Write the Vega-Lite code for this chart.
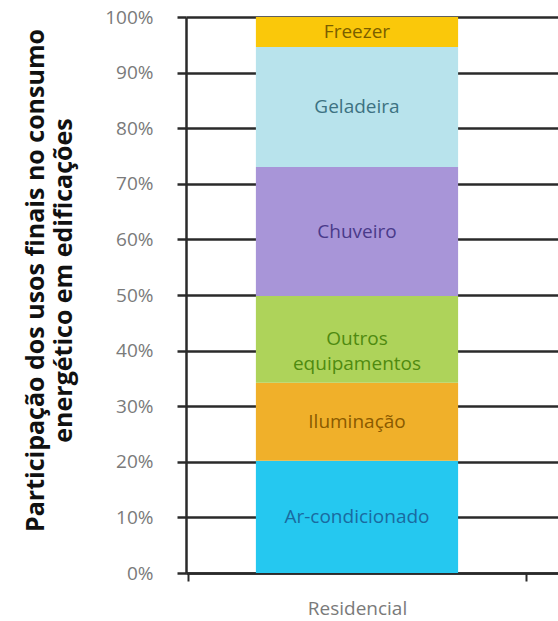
{
  "$schema": "https://vega.github.io/schema/vega-lite/v6.json",
  "autosize": "none",
  "padding": {"left": 186, "top": 17, "right": 0, "bottom": 48},
  "width": 372,
  "height": 556,
  "background": "white",
  "config": {"view": {"stroke": null}},
  "data": {
    "values": [
      {"setor": "Residencial", "uso": "Ar-condicionado", "valor": 20.2, "ordem": 1},
      {"setor": "Residencial", "uso": "Iluminação", "valor": 14.0, "ordem": 2},
      {"setor": "Residencial", "uso": "Outros\nequipamentos", "valor": 15.6, "ordem": 3},
      {"setor": "Residencial", "uso": "Chuveiro", "valor": 23.2, "ordem": 4},
      {"setor": "Residencial", "uso": "Geladeira", "valor": 21.6, "ordem": 5},
      {"setor": "Residencial", "uso": "Freezer", "valor": 5.4, "ordem": 6}
    ]
  },
  "transform": [
    {"stack": "valor", "groupby": ["setor"], "sort": [{"field": "ordem", "order": "ascending"}], "as": ["y0", "y1"]},
    {"calculate": "(datum.y0 + datum.y1) / 2", "as": "ymid"}
  ],
  "encoding": {
    "x": {
      "field": "setor",
      "type": "nominal",
      "scale": {"paddingInner": 0, "paddingOuter": 0.0519, "align": 0.071},
      "axis": {
        "title": null,
        "labelAngle": 0,
        "tickBand": "extent",
        "domainColor": "#2a2a2a",
        "domainWidth": 2.5,
        "tickColor": "#2a2a2a",
        "tickWidth": 2,
        "tickSize": 8,
        "labelColor": "#7a7a7a",
        "labelFont": "Open Sans",
        "labelFontSize": 19,
        "labelPadding": 18
      }
    }
  },
  "layer": [
    {
      "mark": {"type": "bar", "width": {"band": 0.6}},
      "encoding": {
        "y": {
          "field": "y0",
          "type": "quantitative",
          "scale": {"domain": [0, 100], "nice": false},
          "axis": {
            "values": [0, 10, 20, 30, 40, 50, 60, 70, 80, 90, 100],
            "labelExpr": "datum.value + '%'",
            "grid": true,
            "gridColor": "#2a2a2a",
            "gridWidth": 2.5,
            "gridOpacity": 1,
            "domainColor": "#2a2a2a",
            "domainWidth": 2.5,
            "tickColor": "#2a2a2a",
            "tickWidth": 2.5,
            "tickSize": 9,
            "labelColor": "#7a7a7a",
            "labelFont": "Open Sans",
            "labelFontSize": 19,
            "labelPadding": 24,
            "title": ["Participação dos usos finais no consumo", "energético em edificações"],
            "titleFont": "Open Sans",
            "titleFontSize": 25,
            "titleFontWeight": "bold",
            "titleColor": "#111111",
            "titleLineHeight": 28,
            "titlePadding": 28,
            "titleY": 263
          }
        },
        "y2": {"field": "y1"},
        "color": {
          "field": "uso",
          "type": "nominal",
          "legend": null,
          "scale": {
            "domain": ["Ar-condicionado", "Iluminação", "Outros\nequipamentos", "Chuveiro", "Geladeira", "Freezer"],
            "range": ["#25C8F0", "#F0B02A", "#AED35A", "#A895D8", "#B8E3EC", "#FAC80A"]
          }
        }
      }
    },
    {
      "mark": {"type": "text", "font": "Open Sans", "fontSize": 19, "lineBreak": "\n", "lineHeight": 25, "baseline": "middle"},
      "encoding": {
        "y": {"field": "ymid", "type": "quantitative"},
        "text": {"field": "uso"},
        "color": {
          "field": "uso",
          "type": "nominal",
          "scale": {
            "domain": ["Ar-condicionado", "Iluminação", "Outros\nequipamentos", "Chuveiro", "Geladeira", "Freezer"],
            "range": ["#1a6aa0", "#8a5a00", "#4f8a10", "#4a3a8a", "#3d7282", "#7a5e00"]
          },
          "legend": null
        }
      }
    }
  ],
  "resolve": {"scale": {"color": "independent"}}
}
